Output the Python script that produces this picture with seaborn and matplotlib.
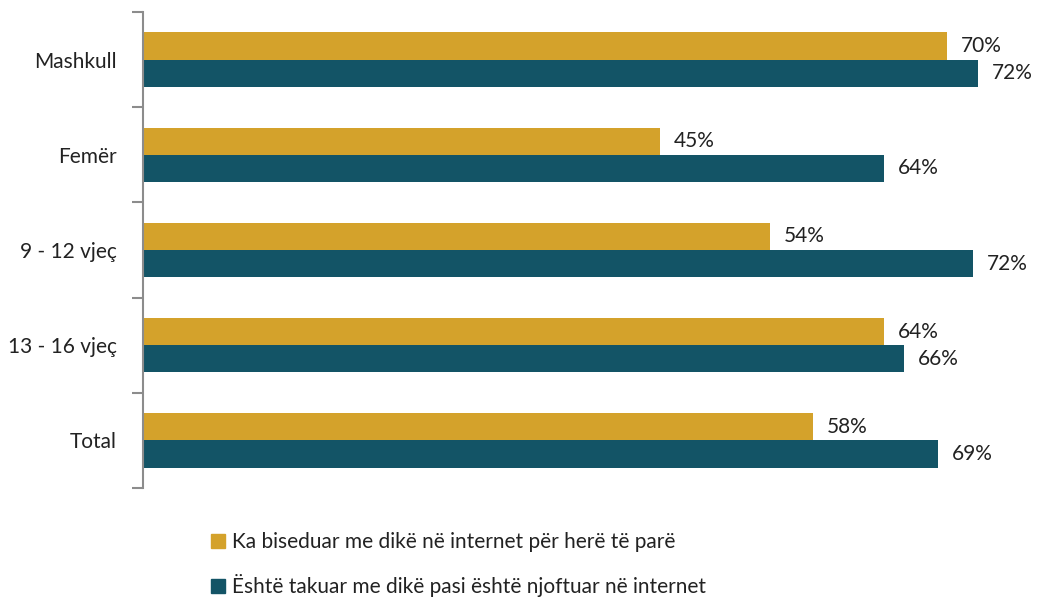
import matplotlib
matplotlib.use("Agg")
import matplotlib.pyplot as plt
import matplotlib.patches as mpatches
import pandas as pd
import seaborn as sns

# === Data ===
categories = ["Mashkull", "Femër", "9 - 12 vjeç", "13 - 16 vjeç", "Total"]
series_names = [
    "Ka biseduar me dikë në internet për herë të parë",
    "Është takuar me dikë pasi është njoftuar në internet",
]
chatted = [69.6, 44.8, 54.3, 64.2, 58.0]
met = [72.3, 64.2, 71.9, 65.9, 68.9]
chatted_labels = ["70%", "45%", "54%", "64%", "58%"]
met_labels = ["72%", "64%", "72%", "66%", "69%"]

colors = ["#D4A22B", "#135466"]

sns.set_theme(style="white")
plt.rcParams["font.family"] = ["Lato", "DejaVu Sans"]

df = pd.DataFrame({
    "category": categories * 2,
    "value": chatted + met,
    "series": [series_names[0]] * len(categories) + [series_names[1]] * len(categories),
})

fig = plt.figure(figsize=(10.38, 5.99), dpi=100)
ax = fig.add_axes([143 / 1038, 1 - 488 / 599, (1010 - 143) / 1038, (488 - 12) / 599])

sns.barplot(
    data=df, y="category", x="value", hue="series", orient="h",
    palette=colors, width=0.57, gap=0, saturation=1, legend=False,
    linewidth=0, ax=ax,
)

ax.set_xlim(0, 75.1)
ax.set_ylim(len(categories) - 0.5, -0.5)

# value labels at bar ends
for container, labels in zip(ax.containers, [chatted_labels, met_labels]):
    ax.bar_label(container, labels=labels, padding=10, fontsize=15, color="#222222")

# spines and ticks: separators between categories, labels at centers
for side in ["top", "right", "bottom"]:
    ax.spines[side].set_visible(False)
ax.spines["left"].set_color("#8c8c8c")
ax.spines["left"].set_linewidth(1.5)
ax.set_xticks([])
ax.set_yticks([i - 0.5 for i in range(len(categories) + 1)])
ax.set_yticklabels([])
ax.tick_params(axis="y", which="major", length=8, width=1.5, color="#8c8c8c", left=True)
ax.set_yticks(range(len(categories)), minor=True)
ax.set_yticklabels(categories, minor=True, fontsize=15, color="#222222")
ax.tick_params(axis="y", which="minor", length=0, pad=19)
ax.set_xlabel("")
ax.set_ylabel("")

handles = [mpatches.Patch(color=c, label=n) for c, n in zip(colors, series_names)]
fig.legend(
    handles=handles, loc="upper left", bbox_to_anchor=(0.195, 0.125),
    ncol=1, frameon=False, fontsize=15, handlelength=0.7, handleheight=0.7,
    handletextpad=0.3, labelspacing=1.05, borderaxespad=0,
    labelcolor="#222222",
)

fig.savefig("out.png", dpi=100)
plt.close(fig)
print("Chart saved to out.png")
